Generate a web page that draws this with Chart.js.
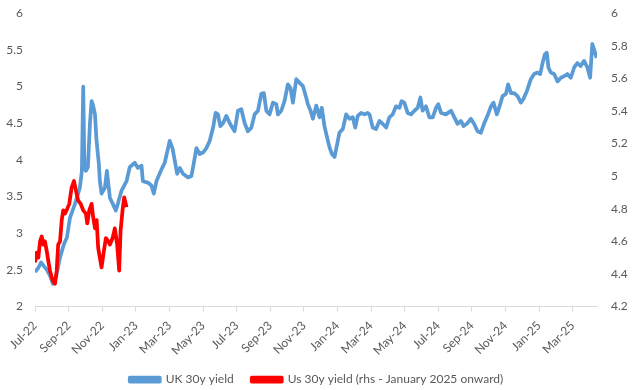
<!DOCTYPE html>
<html>
<head>
<meta charset="utf-8">
<script src="https://cdn.jsdelivr.net/npm/chart.js@4.4.1/dist/chart.umd.min.js"></script>
<style>
  html, body { margin: 0; padding: 0; background: #fff; }
  #wrap { width: 633px; height: 390px; position: relative; }
</style>
</head>
<body>
<div id="wrap"><canvas id="yieldChart"></canvas></div>
<script>
// Month ticks on the x axis, one every two months from Jul-22
const MONTH_LABELS = ['Jul-22', 'Sep-22', 'Nov-22', 'Jan-23', 'Mar-23', 'May-23', 'Jul-23', 'Sep-23',
  'Nov-23', 'Jan-24', 'Mar-24', 'May-24', 'Jul-24', 'Sep-24', 'Nov-24', 'Jan-25', 'Mar-25'];
const X_END = 33.45; // months after Jul-22 where the axis stops

// UK 30y gilt yield (lhs); time is in months after 1 Jul 2022
const UK_MONTHS = [0, 0.18, 0.36, 0.53, 0.71, 0.89, 1.07, 1.25, 1.49, 1.72, 1.90, 2.08, 2.38, 2.67, 2.79, 2.87,
  2.94, 3.03, 3.15, 3.27, 3.37, 3.45, 3.57, 3.65, 3.74, 3.80, 3.86, 3.96, 4.16, 4.28, 4.46, 4.63, 4.81, 4.93,
  5.15, 5.45, 5.64, 5.94, 6.12, 6.34, 6.42, 6.71, 6.93, 7.07, 7.23, 7.53, 7.72, 7.92, 8.02, 8.18, 8.32, 8.46,
  8.62, 8.81, 9.11, 9.31, 9.51, 9.61, 9.80, 10.00, 10.20, 10.40, 10.60, 10.75, 10.89, 11.03, 11.19, 11.39,
  11.59, 11.88, 12.08, 12.28, 12.48, 12.67, 12.88, 13.07, 13.27, 13.47, 13.62, 13.77, 13.96, 14.16, 14.36,
  14.46, 14.66, 14.85, 15.05, 15.21, 15.35, 15.55, 15.75, 15.94, 16.14, 16.24, 16.40, 16.54, 16.74, 16.93,
  17.07, 17.23, 17.39, 17.53, 17.67, 17.83, 17.99, 18.12, 18.32, 18.52, 18.72, 18.91, 19.06, 19.21, 19.41,
  19.61, 19.80, 19.91, 20.10, 20.30, 20.50, 20.70, 20.90, 21.09, 21.29, 21.49, 21.69, 21.82, 21.98, 22.18,
  22.38, 22.58, 22.78, 22.94, 23.07, 23.27, 23.47, 23.67, 23.87, 24.00, 24.17, 24.46, 24.76, 24.96, 25.15,
  25.35, 25.51, 25.74, 25.94, 26.14, 26.34, 26.54, 26.74, 26.93, 27.14, 27.29, 27.49, 27.69, 27.83, 28.03,
  28.16, 28.33, 28.52, 28.72, 28.92, 29.07, 29.28, 29.51, 29.71, 29.91, 30.07, 30.20, 30.35, 30.46, 30.56,
  30.70, 30.90, 31.10, 31.30, 31.49, 31.69, 31.89, 32.09, 32.28, 32.48, 32.68, 32.88, 33.04, 33.17, 33.31, 33.43];
const UK_YIELD = [2.47, 2.52, 2.60, 2.55, 2.50, 2.42, 2.31, 2.40, 2.67, 2.85, 2.94, 3.21, 3.40, 3.62, 3.85, 5.00,
  3.90, 3.85, 3.90, 4.50, 4.80, 4.75, 4.62, 4.30, 4.08, 3.95, 3.71, 3.54, 3.62, 3.85, 3.48, 3.40, 3.31, 3.40,
  3.58, 3.71, 3.90, 3.96, 3.89, 3.92, 3.71, 3.69, 3.65, 3.54, 3.71, 3.87, 3.96, 4.16, 4.26, 4.16, 3.99, 3.81,
  3.89, 3.81, 3.76, 3.78, 4.03, 4.16, 4.08, 4.10, 4.16, 4.26, 4.44, 4.64, 4.62, 4.46, 4.50, 4.60,
  4.50, 4.39, 4.67, 4.69, 4.50, 4.39, 4.44, 4.62, 4.67, 4.90, 4.91, 4.67, 4.62, 4.78, 4.76,
  4.62, 4.67, 4.80, 5.03, 4.98, 4.78, 5.10, 5.05, 5.01, 4.85, 4.76, 4.67, 4.56, 4.74, 4.58,
  4.71, 4.46, 4.30, 4.17, 4.08, 4.04, 4.22, 4.37, 4.42, 4.62, 4.56, 4.58, 4.44, 4.60, 4.64,
  4.62, 4.64, 4.62, 4.44, 4.42, 4.53, 4.49, 4.44, 4.58, 4.62, 4.73, 4.71, 4.80, 4.78, 4.64,
  4.62, 4.67, 4.71, 4.85, 4.67, 4.73, 4.58, 4.58, 4.71, 4.76, 4.64, 4.62, 4.67, 4.58, 4.49,
  4.53, 4.46, 4.50, 4.56, 4.49, 4.39, 4.37, 4.50, 4.60, 4.73, 4.78, 4.62, 4.76, 4.87, 4.90,
  5.03, 4.91, 4.91, 4.87, 4.78, 4.83, 4.94, 5.10, 5.17, 5.19, 5.17, 5.31, 5.44, 5.46, 5.26,
  5.19, 5.17, 5.07, 5.12, 5.14, 5.17, 5.12, 5.26, 5.32, 5.28, 5.35, 5.26, 5.12, 5.58, 5.48, 5.39];

// US 30y Treasury yield (rhs), plotted from the start of the axis
const US_MONTHS = [0, 0.10, 0.20, 0.30, 0.40, 0.49, 0.59, 0.70, 0.79, 0.89, 1.05, 1.19, 1.29, 1.38, 1.49, 1.59,
  1.68, 1.78, 1.88, 2.04, 2.18, 2.32, 2.44, 2.57, 2.72, 2.87, 3.03, 3.11, 3.23, 3.37, 3.46, 3.57, 3.67, 3.76,
  3.86, 3.96, 4.10, 4.22, 4.36, 4.46, 4.62, 4.75, 4.89, 5.01, 5.09, 5.21, 5.31, 5.45];
const US_YIELD = [4.47, 4.53, 4.50, 4.60, 4.63, 4.58, 4.60, 4.54, 4.48, 4.42, 4.36, 4.34, 4.42, 4.58, 4.60, 4.73,
  4.79, 4.77, 4.79, 4.83, 4.93, 4.97, 4.91, 4.85, 4.83, 4.79, 4.77, 4.71, 4.79, 4.83, 4.75, 4.68, 4.73, 4.56,
  4.50, 4.44, 4.54, 4.62, 4.60, 4.58, 4.62, 4.68, 4.58, 4.42, 4.66, 4.79, 4.87, 4.81];

const UK_BLUE = '#5b9bd5';
const US_RED = '#ff0000';
const TEXT_GREY = '#595959';
const AXIS_GREY = '#d9d9d9';
const FONT = 'Lato, "Open Sans", sans-serif';

const toPoints = (xs, ys) => xs.map((x, i) => ({ x: x, y: ys[i] }));

new Chart(document.getElementById('yieldChart'), {
  type: 'line',
  data: {
    datasets: [
      {
        label: 'UK 30y yield',
        data: toPoints(UK_MONTHS, UK_YIELD),
        yAxisID: 'yL',
        borderColor: UK_BLUE,
        backgroundColor: UK_BLUE,
        borderWidth: 3.75,
        pointRadius: 0,
        borderJoinStyle: 'round',
        order: 1,
      },
      {
        label: 'Us 30y yield (rhs - January 2025 onward)',
        data: toPoints(US_MONTHS, US_YIELD),
        yAxisID: 'yR',
        borderColor: US_RED,
        backgroundColor: US_RED,
        borderWidth: 3.75,
        pointRadius: 0,
        borderJoinStyle: 'round',
        order: 0,
      }
    ]
  },
  options: {
    responsive: true,
    maintainAspectRatio: false,
    animation: false,
    // legend sits low, so the bottom padding is pulled in a bit
    layout: { padding: { top: 2, bottom: -5.5, left: 0, right: 0 } },
    plugins: {
      tooltip: { enabled: false },
      legend: {
        position: 'bottom',
        labels: {
          color: TEXT_GREY,
          font: { family: FONT, size: 12 },
          boxWidth: 30,
          boxHeight: 4,
          padding: 18,
          sort: (a, b) => a.datasetIndex - b.datasetIndex,
        }
      }
    },
    scales: {
      x: {
        type: 'linear',
        min: 0,
        max: X_END,
        afterBuildTicks: scale => {
          scale.ticks = MONTH_LABELS.map((_, i) => ({ value: i * 2 }));
        },
        afterFit: scale => { scale.height = 49; },
        ticks: {
          autoSkip: false,
          minRotation: 45,
          maxRotation: 45,
          padding: 7,
          color: TEXT_GREY,
          font: { family: FONT, size: 12 },
          callback: v => MONTH_LABELS[Math.round(v / 2)],
        },
        grid: { drawOnChartArea: false, color: AXIS_GREY, tickLength: 5 },
        border: { color: AXIS_GREY, width: 1 },
      },
      yL: {
        position: 'left',
        min: 2,
        max: 6,
        afterFit: scale => { scale.width = 35; },
        ticks: {
          stepSize: 0.5,
          padding: 4,
          color: TEXT_GREY,
          font: { family: FONT, size: 12 },
          callback: v => String(v),
        },
        grid: { display: false },
        border: { display: false },
      },
      yR: {
        position: 'right',
        min: 4.2,
        max: 6,
        afterFit: scale => { scale.width = 36; },
        ticks: {
          stepSize: 0.2,
          padding: 6,
          color: TEXT_GREY,
          font: { family: FONT, size: 12 },
          callback: v => String(Math.round(v * 10) / 10),
        },
        grid: { display: false },
        border: { display: false },
      }
    }
  }
});
</script>
</body>
</html>
